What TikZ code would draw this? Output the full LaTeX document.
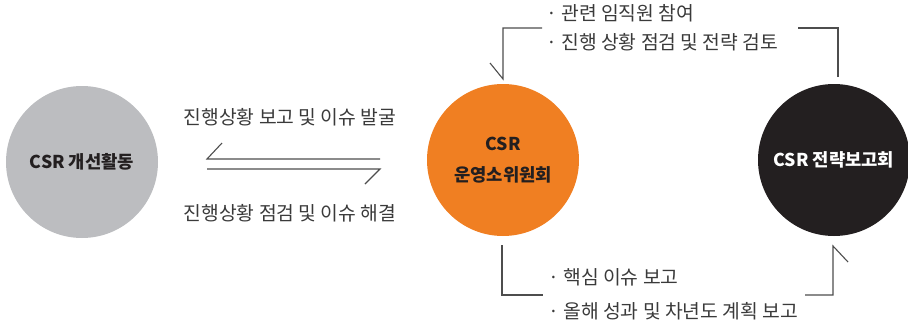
\documentclass[tikz,border=0pt]{standalone}
\usepackage{fontspec}
\newfontfamily\kr{Noto Sans CJK KR}
\definecolor{cgray}{HTML}{BCBDC0}
\definecolor{corange}{HTML}{F07F22}
\definecolor{cblack}{HTML}{231F20}
\definecolor{ctext}{HTML}{3A3A3A}
\definecolor{cline}{HTML}{4D4D4D}
\tikzset{
  circ/.style={circle, minimum size=152pt, inner sep=0pt, align=center, font=\kr\bfseries\fontsize{17.7}{31}\selectfont},
  lbl/.style={inner sep=0pt, text=ctext, font=\kr\fontsize{19.3}{22}\selectfont},
  conn/.style={draw=cline, line width=1.1pt}
}
\begin{document}
\begin{tikzpicture}[x=1pt,y=-1pt]
\useasboundingbox (0,0) rectangle (908,322);
% circles
\node[circ, fill=cgray, text=cblack] (act) at (82,162) {CSR 개선활동};
\node[circ, fill=corange, text=cblack] (comm) at (503,160) {CSR\\운영소위원회};
\node[circ, fill=cblack, text=white] (board) at (834,160) {CSR 전략보고회};
% middle labels
\node[lbl] (l1) at (290,117) {진행상황 보고 및 이슈 발굴};
\node[lbl] (l2) at (290,213) {진행상황 점검 및 이슈 해결};
% middle arrows
\coordinate (m1a) at (380,159);
\coordinate (m1b) at (207,159);
\coordinate (m2a) at (207,169);
\coordinate (m2b) at (380,169);
\draw[conn] (m1a) -- (m1b) -- ++(15,-16);
\draw[conn] (m2a) -- (m2b) -- ++(-15,15);
% top bullets
\node[lbl, anchor=west] (t1) at (546,13.5) {· 관련 임직원 참여};
\node[lbl, anchor=west] (t2) at (546,42) {· 진행 상황 점검 및 전략 검토};
\coordinate (tr) at (838,77);
\coordinate (tl) at (503,79);
\draw[conn] (tr) |- (798,28);
\draw[conn] (542,28) -| (tl) -- ++(-13,-16);
% bottom bullets
\node[lbl, anchor=west] (b1) at (548,277) {· 핵심 이슈 보고};
\node[lbl, anchor=west] (b2) at (548,311) {· 올해 성과 및 차년도 계획 보고};
\coordinate (bl) at (502,245);
\coordinate (br) at (833,246);
\draw[conn] (bl) |- (543,295);
\draw[conn] (805,295) -| (br) -- ++(15,16);
\end{tikzpicture}
\end{document}
